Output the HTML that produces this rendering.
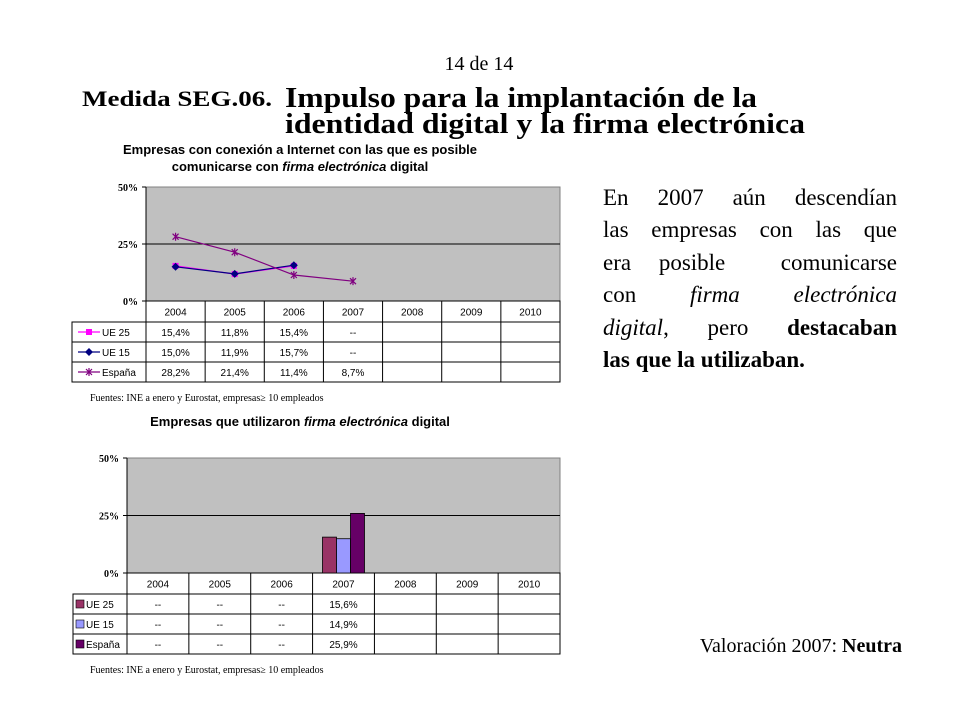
<!DOCTYPE html>
<html><head><meta charset="utf-8">
<style>
html,body{margin:0;padding:0;background:#fff;}
#page{position:relative;width:960px;height:720px;overflow:hidden;}
svg{position:absolute;left:0;top:0;}
.para{position:absolute;left:603px;top:182px;width:294px;font-family:"Liberation Serif",serif;font-size:23px;line-height:32.4px;color:#000;}
.para div{text-align:justify;text-align-last:justify;height:32.4px;white-space:nowrap;}
</style></head>
<body>
<div id="page">
<svg id="svg" width="960" height="720" xmlns="http://www.w3.org/2000/svg">
  <text x="479" y="70" text-anchor="middle" font-family="Liberation Serif, serif" font-size="20">14 de 14</text>
  <text x="82" y="106" font-family="Liberation Serif, serif" font-weight="bold" font-size="22" textLength="190" lengthAdjust="spacingAndGlyphs">Medida SEG.06.</text>
  <text x="285" y="107" font-family="Liberation Serif, serif" font-weight="bold" font-size="29" textLength="472" lengthAdjust="spacingAndGlyphs">Impulso para la implantación de la</text>
  <text x="285" y="133" font-family="Liberation Serif, serif" font-weight="bold" font-size="29" textLength="520" lengthAdjust="spacingAndGlyphs">identidad digital y la firma electrónica</text>
  <text x="902" y="652" text-anchor="end" font-family="Liberation Serif, serif" font-size="20">Valoración 2007: <tspan font-weight="bold">Neutra</tspan></text>
  <g id="c1"></g>
  <g id="c2"></g>
</svg>
<div class="para">
<div>En 2007 aún descendían</div>
<div>las empresas con las que</div>
<div>era posible&nbsp; comunicarse</div>
<div>con <i>firma electrónica</i></div>
<div><i>digital</i>, pero <b>destacaban</b></div>
<div style="text-align:left;text-align-last:left"><b>las que la utilizaban.</b></div>
</div>
</div>
<script>
const years = ["2004","2005","2006","2007","2008","2009","2010"];
const seriesNames = ["UE 25","UE 15","España"];
const lineUE25 = [15.4,11.8,15.4,null];
const lineUE15 = [15.0,11.9,15.7,null];
const lineEsp = [28.2,21.4,11.4,8.7];
const lineLabelsUE25 = ["15,4%","11,8%","15,4%","--"];
const lineLabelsUE15 = ["15,0%","11,9%","15,7%","--"];
const lineLabelsEsp = ["28,2%","21,4%","11,4%","8,7%"];
const barUE25 = [null,null,null,15.6];
const barUE15 = [null,null,null,14.9];
const barEsp = [null,null,null,25.9];
const barLabelsUE25 = ["--","--","--","15,6%"];
const barLabelsUE15 = ["--","--","--","14,9%"];
const barLabelsEsp = ["--","--","--","25,9%"];
const yTicks = [0,25,50];
const yTickLabels = ["0%","25%","50%"];

const NS="http://www.w3.org/2000/svg";
function mk(parent,tag,attrs,text){const e=document.createElementNS(NS,tag);for(const k in attrs)e.setAttribute(k,attrs[k]);if(text!==undefined)e.textContent=text;parent.appendChild(e);return e;}

function frame(g,cfg){
  const {L,R,T,B,legL,rowH,hdrH,titleLines,titleY,srcY}=cfg;
  const colW=(R-L)/years.length;
  const y=v=>B-(v/50)*(B-T);
  const x=i=>L+colW*(i+0.5);
  titleLines.forEach((ln,i)=>{
    const t=mk(g,'text',{x:cfg.titleX,y:titleY+i*17,'text-anchor':'middle','font-family':'Liberation Sans, sans-serif','font-weight':'bold','font-size':'13'});
    
    
    ln.forEach(p=>{const s=mk(t,'tspan',{},p[0]);if(p[1])s.setAttribute('font-style','italic');});
  });
  const bg=mk(g,'rect',{x:L,y:T,width:R-L,height:B-T,fill:'#c0c0c0',stroke:'#808080','stroke-width':1});
  
  
  yTicks.forEach((v,i)=>{
    if(v>0&&v<50){const gl=mk(g,'line',{x1:L,x2:R,y1:y(v),y2:y(v),stroke:'#000','stroke-width':1});
      
      }
    mk(g,'line',{x1:L-4,x2:L,y1:y(v),y2:y(v),stroke:'#000'});
    const t=mk(g,'text',{x:L-8,y:y(v)+4,'text-anchor':'end','font-family':'Liberation Serif, serif','font-weight':'bold','font-size':'10'},yTickLabels[i]);
    
    
  });
  mk(g,'line',{x1:L,x2:L,y1:T,y2:B,stroke:'#000'});
  const tb=B+hdrH+rowH*3;
  mk(g,'rect',{x:L,y:B,width:R-L,height:hdrH,fill:'#fff',stroke:'#000'});
  mk(g,'rect',{x:legL,y:B+hdrH,width:R-legL,height:rowH*3,fill:'#fff',stroke:'#000'});
  for(let i=0;i<=years.length;i++) mk(g,'line',{x1:L+colW*i,x2:L+colW*i,y1:B,y2:tb,stroke:'#000'});
  for(let r=1;r<3;r++) mk(g,'line',{x1:legL,x2:R,y1:B+hdrH+rowH*r,y2:B+hdrH+rowH*r,stroke:'#000'});
  years.forEach((yr,i)=>{const t=mk(g,'text',{x:x(i),y:B+hdrH/2+4,'text-anchor':'middle','font-family':'Liberation Sans, sans-serif','font-size':'10'},yr);
    
    });
  const src=mk(g,'text',{x:90,y:srcY,'font-family':'Liberation Serif, serif','font-size':'10'},'Fuentes: INE a enero y Eurostat, empresas\u2265 10 empleados');
  
  
  return {x,y,colW,rowY:r=>B+hdrH+rowH*r+rowH/2};
}

(function(){
  const g=document.getElementById('c1');
  const f=frame(g,{L:146,R:560,T:187,B:301,legL:72,rowH:20,hdrH:21,titleX:300,titleY:154,srcY:401,
    titleLines:[[["Empresas con conexión a Internet con las que es posible"]],[["comunicarse con "],["firma electrónica",1],[" digital"]]]});
  const sets=[[lineUE25,'#ff00ff',lineLabelsUE25,'sq'],[lineUE15,'#000080',lineLabelsUE15,'dia'],[lineEsp,'#800080',lineLabelsEsp,'star']];
  function marker(gg,type,cx,cy,col){
    if(type==='sq') return mk(gg,'rect',{x:cx-3,y:cy-3,width:6,height:6,fill:col});
    if(type==='dia') return mk(gg,'path',{d:`M${cx} ${cy-4}L${cx+4} ${cy}L${cx} ${cy+4}L${cx-4} ${cy}Z`,fill:col});
    return mk(gg,'path',{d:`M${cx-3} ${cy-3}L${cx+3} ${cy+3}M${cx-3} ${cy+3}L${cx+3} ${cy-3}M${cx} ${cy-4}L${cx} ${cy+4}`,stroke:col,'stroke-width':1.2,fill:'none'});
  }
  sets.forEach((s,si)=>{
    const [vals,col,labels,mt]=s;
    const sg=mk(g,'g',{});
    
    
    let d='';vals.forEach((v,i)=>{if(v!==null)d+=(d?'L':'M')+f.x(i)+' '+f.y(v);});
    const p=mk(sg,'path',{d,fill:'none',stroke:col,'stroke-width':1.2});
    
    
    vals.forEach((v,i)=>{if(v!==null){const m=marker(sg,mt,f.x(i),f.y(v),col);
      
      }});
    const ry=f.rowY(si);
    mk(g,'line',{x1:78,x2:100,y1:ry,y2:ry,stroke:col,'stroke-width':1.2});
    marker(g,mt,89,ry,col);
    const lt=mk(g,'text',{x:102,y:ry+4,'font-family':'Liberation Sans, sans-serif','font-size':'10'},seriesNames[si]);
    
    
    labels.forEach((l,i)=>{const t=mk(g,'text',{x:f.x(i),y:ry+4,'text-anchor':'middle','font-family':'Liberation Sans, sans-serif','font-size':'10'},l);
      
      });
  });
})();

(function(){
  const g=document.getElementById('c2');
  const f=frame(g,{L:127,R:560,T:458,B:573,legL:73,rowH:20,hdrH:21,titleX:300,titleY:426,srcY:673,
    titleLines:[[["Empresas que utilizaron "],["firma electrónica",1],[" digital"]]]});
  const sets=[[barUE25,'#993366',barLabelsUE25],[barUE15,'#9999ff',barLabelsUE15],[barEsp,'#660066',barLabelsEsp]];
  const bw=14;
  sets.forEach((s,si)=>{
    const [vals,col,labels]=s;
    vals.forEach((v,i)=>{if(v!==null){
      const bx=f.x(i)-bw*1.5+bw*si;
      const r=mk(g,'rect',{x:bx,y:f.y(v),width:bw,height:f.y(0)-f.y(v),fill:col,stroke:'#000','stroke-width':0.8});
      
      
    }});
    const ry=f.rowY(si);
    mk(g,'rect',{x:76,y:ry-4,width:8,height:8,fill:col,stroke:'#000','stroke-width':0.6});
    const lt=mk(g,'text',{x:86,y:ry+4,'font-family':'Liberation Sans, sans-serif','font-size':'10'},seriesNames[si]);
    
    
    labels.forEach((l,i)=>{const t=mk(g,'text',{x:f.x(i),y:ry+4,'text-anchor':'middle','font-family':'Liberation Sans, sans-serif','font-size':'10'},l);
      
      });
  });
})();
</script>
</body></html>
